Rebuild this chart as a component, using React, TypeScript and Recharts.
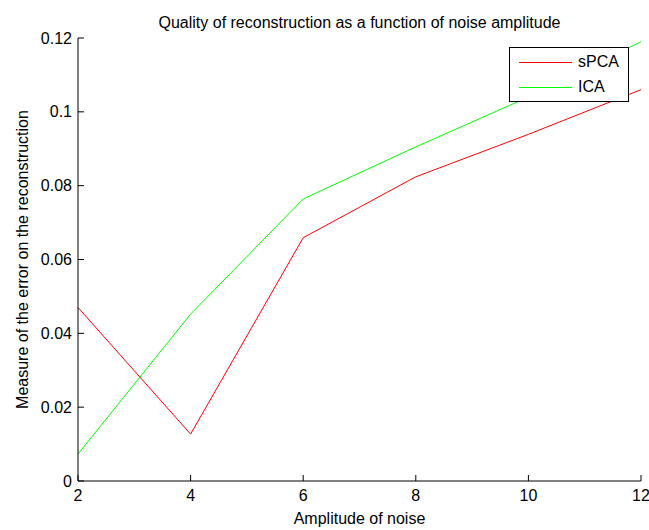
import React from "react";
import { LineChart, Line, XAxis, YAxis, Legend } from "recharts";

// values
const noiseAmplitude = [2, 4, 6, 8, 10, 12];
const spcaError = [0.047, 0.0127, 0.0659, 0.0824, 0.0939, 0.106];
const icaError = [0.0073, 0.0452, 0.0764, 0.0905, 0.104, 0.119];

const seriesOrder = ["sPCA", "ICA"];

const xTicks = [2, 4, 6, 8, 10, 12];
const yTicks = [0, 0.02, 0.04, 0.06, 0.08, 0.1, 0.12];
const yTickLabels = ["0", "0.02", "0.04", "0.06", "0.08", "0.1", "0.12"];

const title = "Quality of reconstruction as a function of noise amplitude";
const xTitle = "Amplitude of noise";
const yTitle = "Measure of the error on the reconstruction";

const data = noiseAmplitude.map((n, i) => ({
  noise: n,
  sPCA: spcaError[i],
  ICA: icaError[i],
}));

const FONT = '"Liberation Sans", Arial, Helvetica, sans-serif';
const TICK_LEN = 6;

// matlab style: tick marks point into the plot
const XTick = (props: any) => {
  const { x, y, payload } = props;
  return (
    <g>
      <line x1={x} y1={y} x2={x} y2={y - TICK_LEN} stroke="#000" />
      <text x={x} y={y + 20} textAnchor="middle" fontSize={16} fontFamily={FONT} fill="#000">
        {payload.value}
      </text>
    </g>
  );
};

const YTick = (props: any) => {
  const { x, y, payload } = props;
  const idx = yTicks.indexOf(payload.value);
  const label = idx >= 0 ? yTickLabels[idx] : String(payload.value);
  return (
    <g>
      <line x1={x} y1={y} x2={x + TICK_LEN} y2={y} stroke="#000" />
      <text x={x - 6} y={y} dy="0.35em" textAnchor="end" fontSize={16} fontFamily={FONT} fill="#000">
        {label}
      </text>
    </g>
  );
};

const renderXLabel = (props: any) => {
  const vb = props.viewBox;
  return (
    <text x={vb.x + vb.width / 2} y={vb.y + 43} textAnchor="middle" fontSize={16} fontFamily={FONT} fill="#000">
      {xTitle}
    </text>
  );
};

const renderYLabel = (props: any) => {
  const vb = props.viewBox;
  const cx = vb.x + 28;
  const cy = vb.y + vb.height / 2;
  return (
    <text
      x={cx}
      y={cy}
      transform={`rotate(-90, ${cx}, ${cy})`}
      textAnchor="middle"
      fontSize={16}
      fontFamily={FONT}
      fill="#000"
    >
      {yTitle}
    </text>
  );
};

const renderLegend = (props: any) => {
  const payload = [...(props.payload || [])].sort(
    (a: any, b: any) => seriesOrder.indexOf(a.value) - seriesOrder.indexOf(b.value)
  );
  return (
    <div
      style={{
        width: 120,
        height: 55,
        boxSizing: "border-box",
        border: "1px solid #000",
        background: "#fff",
        paddingTop: 1.5,
        fontFamily: FONT,
        fontSize: 16,
        color: "#000",
      }}
    >
      {payload.map((entry: any) => (
        <div key={entry.value} style={{ display: "flex", alignItems: "center", height: 25 }}>
          <span
            style={{
              display: "inline-block",
              marginLeft: 9,
              width: 53,
              height: 0,
              borderTop: `1px solid ${entry.color}`,
            }}
          />
          <span style={{ marginLeft: 6, lineHeight: "16px" }}>{entry.value}</span>
        </div>
      ))}
    </div>
  );
};

export default function App() {
  return (
    <div style={{ position: "absolute", left: 0, top: 0, width: 649, height: 530, background: "#fff" }}>
      <div
        style={{
          position: "absolute",
          left: 78,
          top: 14.5,
          width: 563,
          textAlign: "center",
          fontFamily: FONT,
          fontSize: 16,
          lineHeight: "16px",
          color: "#000",
          zIndex: 2,
        }}
      >
        {title}
      </div>
      <LineChart width={649} height={530} data={data} margin={{ top: 38, right: 8, bottom: 0, left: 0 }}>
        <XAxis
          type="number"
          dataKey="noise"
          domain={[2, 12]}
          ticks={xTicks}
          interval={0}
          height={49}
          tickSize={0}
          tickMargin={0}
          tickLine={false}
          axisLine={{ stroke: "#000" }}
          tick={<XTick />}
          label={{ value: xTitle, content: renderXLabel }}
        />
        <YAxis
          type="number"
          domain={[0, 0.12]}
          ticks={yTicks}
          interval={0}
          width={78}
          tickSize={0}
          tickMargin={0}
          tickLine={false}
          axisLine={{ stroke: "#000" }}
          tick={<YTick />}
          label={{ value: yTitle, content: renderYLabel }}
        />
        <Legend
          layout="vertical"
          align="center"
          verticalAlign="middle"
          content={renderLegend}
          wrapperStyle={{ left: 509, top: 47, width: 120, height: 55 }}
        />
        <Line
          type="linear"
          dataKey="sPCA"
          name="sPCA"
          stroke="#ff0000"
          strokeWidth={1}
          dot={false}
          activeDot={false}
          isAnimationActive={false}
        />
        <Line
          type="linear"
          dataKey="ICA"
          name="ICA"
          stroke="#00ff00"
          strokeWidth={1}
          dot={false}
          activeDot={false}
          isAnimationActive={false}
        />
      </LineChart>
    </div>
  );
}
